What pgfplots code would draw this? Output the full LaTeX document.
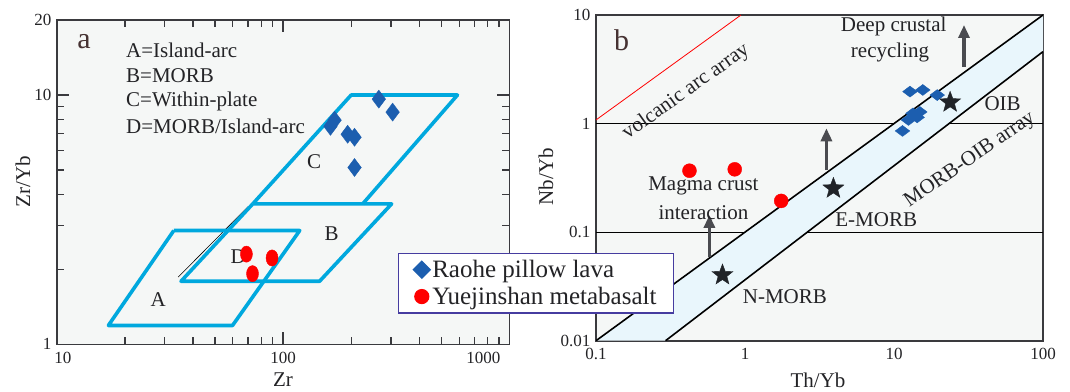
\documentclass[border=0pt]{standalone}
\usepackage{pgfplots}
\pgfplotsset{compat=1.18}
\usepackage{fontspec}
\setmainfont{Liberation Serif}
\usetikzlibrary{arrows.meta}

\definecolor{bggray}{RGB}{245,247,246}
\definecolor{axgray}{RGB}{58,58,62}
\definecolor{fieldblue}{RGB}{0,168,222}
\definecolor{rblue}{RGB}{28,94,175}
\definecolor{bandblue}{RGB}{233,246,252}
\definecolor{arrgray}{RGB}{74,75,80}
\definecolor{txt}{RGB}{35,35,38}
\definecolor{letter}{RGB}{70,50,50}
\definecolor{legblue}{RGB}{70,60,160}
\definecolor{starblk}{RGB}{32,35,40}

\newcommand\fa{\fontsize{21}{24}\selectfont}
\newcommand\ft{\fontsize{17}{19}\selectfont}
\newcommand\fl{\fontsize{25}{29}\selectfont}
\newcommand\fp{\fontsize{30}{32}\selectfont}

\pgfdeclareplotmark{fstar}{%
  \pgfpathmoveto{\pgfpointpolar{90}{\pgfplotmarksize}}%
  \pgfpathlineto{\pgfpointpolar{126}{0.42\pgfplotmarksize}}%
  \pgfpathlineto{\pgfpointpolar{162}{\pgfplotmarksize}}%
  \pgfpathlineto{\pgfpointpolar{198}{0.42\pgfplotmarksize}}%
  \pgfpathlineto{\pgfpointpolar{234}{\pgfplotmarksize}}%
  \pgfpathlineto{\pgfpointpolar{270}{0.42\pgfplotmarksize}}%
  \pgfpathlineto{\pgfpointpolar{306}{\pgfplotmarksize}}%
  \pgfpathlineto{\pgfpointpolar{342}{0.42\pgfplotmarksize}}%
  \pgfpathlineto{\pgfpointpolar{18}{\pgfplotmarksize}}%
  \pgfpathlineto{\pgfpointpolar{54}{0.42\pgfplotmarksize}}%
  \pgfpathclose
  \pgfusepathqfillstroke}

\begin{document}
\begin{tikzpicture}[x=1pt,y=1pt]
\useasboundingbox (0,0) rectangle (1070,391);

% ---------------- Panel b ----------------
\begin{axis}[
  at={(596pt,50.3pt)}, anchor=south west, scale only axis,
  width=447pt, height=325.7pt,
  xmode=log, ymode=log, xmin=0.1, xmax=100, ymin=0.01, ymax=10,
  axis background/.style={fill=bggray},
  axis line style={draw=axgray, line width=1.6pt},
  major tick length=0pt, minor tick length=0pt,
  xtick={0.1,1,10,100}, xticklabels={0.1,1,10,100},
  ytick={0.01,0.1,1,10}, yticklabels={0.01,0.1,1,10},
  minor xtick={}, minor ytick={},
  tick label style={font=\ft, text=txt},
  xticklabel style={yshift=-4pt},
  yticklabel style={xshift=-2pt},
]
\addplot[draw=black, line width=0.8pt] coordinates {(0.1,1) (100,1)};
\addplot[draw=black, line width=0.8pt] coordinates {(0.1,0.1) (100,0.1)};
\addplot[fill=bandblue, draw=none] coordinates {(0.1,0.01) (100,10) (100,4.6) (0.293,0.01)};
\addplot[draw=black, line width=1.6pt] coordinates {(0.1,0.01) (100,10)};
\addplot[draw=black, line width=1.6pt] coordinates {(0.293,0.01) (100,4.6)};
\addplot[draw=red, line width=0.8pt] coordinates {(0.1,1.08) (0.94,10)};
% arrows
\addplot[draw=arrgray, line width=3.2pt, -{Triangle[width=11pt,length=13pt]}] coordinates {(0.577,0.0594) (0.577,0.144)};
\addplot[draw=arrgray, line width=3.2pt, -{Triangle[width=11pt,length=13pt]}] coordinates {(3.52,0.373) (3.52,0.904)};
\addplot[draw=arrgray, line width=3.2pt, -{Triangle[width=11pt,length=13pt]}] coordinates {(29.5,3.34) (29.5,8.09)};
% Raohe pillow lava
\addplot[only marks, mark=diamond*, mark size=7.3pt, mark options={rotate=90, fill=rblue, draw=rblue}]
  coordinates {(12.8,1.97) (15.6,2.04) (19.5,1.83) (13.4,1.24) (14.3,1.14) (12.5,1.08) (11.4,0.855) (14.9,1.28)};
% Yuejinshan metabasalt
\addplot[only marks, mark=*, mark size=7pt, mark options={fill=red, draw=red}]
  coordinates {(0.424,0.368) (0.853,0.379) (1.75,0.194)};
% reference compositions
\addplot[only marks, mark=fstar, mark size=11pt, mark options={fill=starblk, draw=starblk}]
  coordinates {(0.706,0.0403) (3.92,0.253) (23.8,1.57)};
\end{axis}

% ---------------- Panel a ----------------
\begin{axis}[
  at={(56.8pt,46.7pt)}, anchor=south west, scale only axis,
  width=452.5pt, height=324.3pt,
  xmode=log, ymode=log, xmin=10, xmax=1000, ymin=1, ymax=20,
  axis background/.style={fill=bggray},
  axis line style={draw=axgray, line width=1.6pt},
  tick align=inside, major tick length=12pt, minor tick length=7pt,
  every tick/.style={draw=axgray, line width=1.2pt},
  xtick={10,100,1000}, xticklabels={\hspace*{12pt}10,100,1000\hspace*{52pt}},
  ytick={1,10,20}, yticklabels={\raisebox{-3pt}{1},10,\raisebox{-7pt}{20}},
  minor xtick={20,30,40,50,60,70,80,90,200,300,400,500,600,700,800,900},
  minor ytick={2,3,4,5,6,7,8,9},
  tick label style={font=\ft, text=txt},
  xticklabel style={yshift=-4pt},
  yticklabel style={xshift=-2pt},
  legend style={at={(0.7534,0.2825)}, anchor=north west, draw=legblue,
    line width=1.2pt, fill=white, font=\fl, text=txt,
    inner xsep=15pt, inner ysep=5pt, row sep=4pt},
  legend cell align=left,
]
\addplot[draw=black, line width=0.6pt, forget plot] coordinates {(34.4,1.86) (70.1,3.57)};
\addplot[draw=fieldblue, line width=3.6pt, line join=round, forget plot]
  coordinates {(32.9,2.86) (118.5,2.86) (59.8,1.19) (16.9,1.19) (32.9,2.86)};
\addplot[draw=fieldblue, line width=3.6pt, line join=round, forget plot]
  coordinates {(73.5,3.66) (302,3.66) (145,1.79) (35.4,1.79) (73.5,3.66)};
\addplot[draw=fieldblue, line width=3.6pt, line join=round, forget plot]
  coordinates {(73.5,3.66) (200,10) (590,10) (225,3.66)};
\node[font=\fa, text=txt] at (axis cs:63.3,2.24) {D};
\addplot[only marks, mark=diamond*, mark size=9pt, mark options={fill=rblue, draw=rblue}, forget plot]
  coordinates {(169,7.93) (162,7.49) (193,6.96) (207,6.77) (207,5.12) (265,9.63) (305,8.54)};
\addplot[only marks, mark=*, mark size=6pt, mark options={fill=red, draw=red, yscale=1.35}, forget plot]
  coordinates {(68.9,2.30) (89.4,2.22) (73.3,1.92)};
\addlegendimage{only marks, mark=square*, mark size=6pt, mark options={rotate=45, fill=rblue, draw=rblue}}
\addlegendentry{Raohe pillow lava}
\addlegendimage{only marks, mark=*, mark size=7pt, mark options={fill=red, draw=red}}
\addlegendentry{Yuejinshan metabasalt}
\end{axis}

% ---------------- annotations ----------------
\node[font=\fp, text=letter] at (84,349.3) {a};
\node[font=\fa, text=txt, anchor=west, inner sep=0pt] at (126,341) {A=Island-arc};
\node[font=\fa, text=txt, anchor=west, inner sep=0pt] at (126,315) {B=MORB};
\node[font=\fa, text=txt, anchor=west, inner sep=0pt] at (126,289.3) {C=Within-plate};
\node[font=\fa, text=txt, anchor=west, inner sep=0pt] at (126,264.3) {D=MORB/Island-arc};
\node[font=\fa, text=txt] at (314,229.3) {C};
\node[font=\fa, text=txt] at (331.7,157.7) {B};
\node[font=\fa, text=txt] at (158.3,91) {A};
\node[font=\fa, text=txt, rotate=90] at (23,209) {Zr/Yb};
\node[font=\fa, text=txt] at (283,11) {Zr};

\node[font=\fp, text=letter] at (621.7,351) {b};
\node[font=\fa, text=txt, rotate=35.5] at (686,299) {volcanic arc array};
\node[font=\fa, text=txt] at (893.7,364.3) {Deep crustal};
\node[font=\fa, text=txt] at (890,338.3) {recycling};
\node[font=\fa, text=txt] at (1002.6,287) {OIB};
\node[font=\fa, text=txt, rotate=34.5] at (970,231) {MORB-OIB array};
\node[font=\fa, text=txt] at (703.4,205) {Magma crust};
\node[font=\fa, text=txt] at (703.4,178.7) {interaction};
\node[font=\fa, text=txt] at (876.2,171) {E-MORB};
\node[font=\fa, text=txt] at (784.9,94.3) {N-MORB};
\node[font=\fa, text=txt, rotate=90] at (546,214.3) {Nb/Yb};
\node[font=\fa, text=txt] at (818,11) {Th/Yb};
\end{tikzpicture}
\end{document}
